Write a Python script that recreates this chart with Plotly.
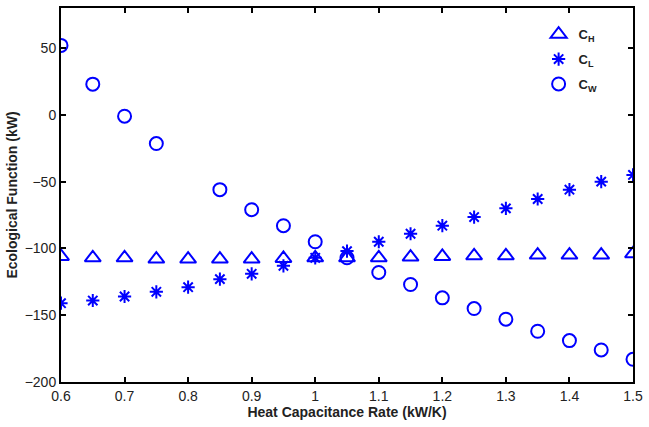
import plotly.graph_objects as go

x_vals = [0.6, 0.65, 0.7, 0.75, 0.8, 0.85, 0.9, 0.95, 1.0, 1.05, 1.1, 1.15, 1.2, 1.25, 1.3, 1.35, 1.4, 1.45, 1.5]
c_h = [-106, -107, -107, -108, -108, -108, -108, -107.5, -107, -107, -107, -106.5, -106, -105.5, -105.5, -105, -105, -105, -104]
c_l = [-141, -139, -136, -132.5, -129, -123, -119, -113, -107, -102, -95, -89, -83, -76.5, -70, -63, -56, -50, -45]
x_w = [0.6, 0.65, 0.7, 0.75, 0.85, 0.9, 0.95, 1.0, 1.05, 1.1, 1.15, 1.2, 1.25, 1.3, 1.35, 1.4, 1.45, 1.5]
c_w = [52, 23, -1, -21.5, -56, -71, -83, -95, -107, -118, -127, -137, -145, -153, -162, -169, -176, -183]

x_ticks = [0.6, 0.7, 0.8, 0.9, 1.0, 1.1, 1.2, 1.3, 1.4, 1.5]
x_tick_text = ["0.6", "0.7", "0.8", "0.9", "1", "1.1", "1.2", "1.3", "1.4", "1.5"]
y_ticks = [-200, -150, -100, -50, 0, 50]

blue = "#0000FF"
fig = go.Figure()
fig.add_trace(go.Scatter(x=x_vals, y=c_h, mode="markers", name="C<sub>H</sub>", legendgroup="h",
                         marker=dict(symbol="triangle-up-open", size=14, color=blue, line=dict(width=2, color=blue))))
fig.add_trace(go.Scatter(x=x_vals, y=c_l, mode="markers", name="C<sub>L</sub>", legendgroup="l",
                         marker=dict(symbol="asterisk-open", size=11, color=blue, line=dict(width=2, color=blue))))
fig.add_trace(go.Scatter(x=x_w, y=c_w, mode="markers", name="C<sub>W</sub>", legendgroup="w",
                         marker=dict(symbol="circle-open", size=13, color=blue, line=dict(width=2, color=blue))))

font_fam = "Liberation Sans, Arial"
axis_common = dict(showgrid=False, zeroline=False, showline=True, linecolor="black", linewidth=2,
                   mirror="ticks", ticks="inside", ticklen=5, tickwidth=1.5, tickcolor="black",
                   tickfont=dict(family=font_fam, size=14, color="#222"))
fig.update_xaxes(range=[0.6, 1.5], tickvals=x_ticks, ticktext=x_tick_text,
                 title=dict(text="<b>Heat Capacitance Rate (kW/K)</b>", font=dict(family=font_fam, size=14, color="#222"), standoff=2),
                 **axis_common)
fig.update_yaxes(range=[-200, 80], tickvals=y_ticks,
                 title=dict(text="<b>Ecological Function (kW)</b>", font=dict(family=font_fam, size=14, color="#222"), standoff=4),
                 **axis_common)

fig.update_layout(width=649, height=427, margin=dict(l=61, r=12, t=6, b=45),
                  plot_bgcolor="white", paper_bgcolor="white",
                  legend=dict(x=0.835, y=0.97, xanchor="left", yanchor="top", bgcolor="rgba(0,0,0,0)",
                              font=dict(family=font_fam, size=13, color="#222", weight="bold"),
                              tracegroupgap=5),
                  showlegend=True)
fig.write_html("out.html", config={"displayModeBar": False},
               post_script="document.body.style.margin='0';document.body.style.padding='0';")
